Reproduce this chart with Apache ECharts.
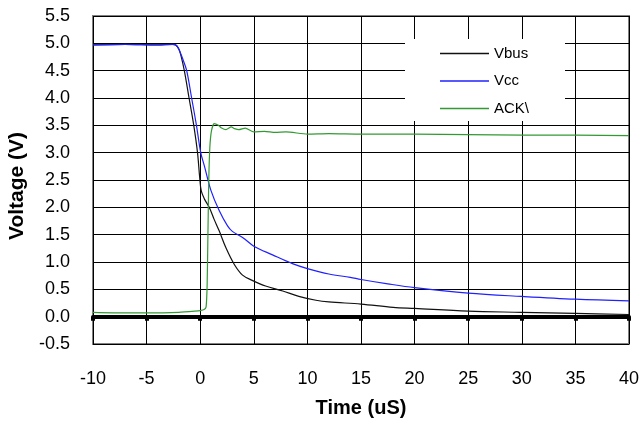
<!DOCTYPE html>
<html>
<head>
<meta charset="utf-8">
<script src="https://cdn.jsdelivr.net/npm/echarts@6/dist/echarts.min.js"></script>
<style>
html,body{margin:0;padding:0;background:#fff;}
#chart{width:641px;height:422px;}
</style>
</head>
<body>
<div id="chart"></div>
<script>
// Axis ticks
var xTicks = [-10, -5, 0, 5, 10, 15, 20, 25, 30, 35, 40];
var yTicks = [-0.5, 0, 0.5, 1, 1.5, 2, 2.5, 3, 3.5, 4, 4.5, 5, 5.5];

// Vbus
var vbusT = [-10, -7, -4, -2.6, -2.3, -2.0, -1.8, -1.48, -1.04, -0.6, -0.25, -0.05, 0.1, 0.4, 0.84, 1.3, 1.77, 2.4, 3.17, 3.95, 4.9, 6.1, 7.7, 9.2, 10.8, 12, 15, 18, 20, 25, 30, 35, 40];
var vbusV = [4.97, 4.98, 4.97, 4.98, 4.97, 4.9, 4.78, 4.5, 4.0, 3.5, 3.0, 2.55, 2.3, 2.15, 2.0, 1.78, 1.57, 1.26, 0.96, 0.76, 0.66, 0.56, 0.47, 0.37, 0.30, 0.27, 0.23, 0.17, 0.15, 0.10, 0.08, 0.06, 0.04];

// Vcc
var vccT = [-10, -7, -4, -2.5, -2.2, -1.9, -1.6, -1.26, -0.8, -0.35, 0.05, 0.4, 1.0, 1.77, 2.55, 3.0, 3.95, 5.0, 6.75, 8.6, 10, 12, 14, 15, 17.5, 20, 25, 30, 35, 40];
var vccV = [4.97, 4.98, 4.97, 4.98, 4.96, 4.85, 4.7, 4.5, 4.0, 3.5, 3.0, 2.75, 2.31, 1.94, 1.66, 1.56, 1.45, 1.29, 1.13, 0.97, 0.88, 0.78, 0.72, 0.68, 0.6, 0.53, 0.43, 0.37, 0.32, 0.29];

// ACK\
var ackT = [-10, -7, -5, -2, -0.5, 0.0, 0.37, 0.55, 0.65, 0.72, 0.8, 0.9, 1.05, 1.3, 1.7, 2.0, 2.4, 2.9, 3.2, 3.6, 4.2, 5, 6, 7, 8, 10, 12, 15, 20, 25, 30, 35, 40];
var ackV = [0.08, 0.07, 0.07, 0.08, 0.1, 0.11, 0.13, 0.18, 0.6, 1.5, 2.5, 3.1, 3.4, 3.53, 3.5, 3.45, 3.42, 3.47, 3.44, 3.42, 3.45, 3.38, 3.39, 3.37, 3.38, 3.34, 3.35, 3.34, 3.34, 3.33, 3.32, 3.32, 3.31];

function pairs(t, v) { return t.map(function (x, i) { return [x, v[i]]; }); }

var chart = echarts.init(document.getElementById('chart'), null, {renderer: 'canvas'});
var font = '"Liberation Sans", Arial, sans-serif';
var lineIcon = 'path://M0,0H49V1.4H0Z';
chart.setOption({
  animation: false,
  backgroundColor: '#fff',
  grid: {left: 93, top: 16, right: 12, bottom: 78, containLabel: false, outerBoundsMode: 'none',
    show: true, borderColor: '#808080', borderWidth: 2, backgroundColor: 'transparent'},
  legend: {
    orient: 'vertical', left: 405, top: 39,
    backgroundColor: '#fff',
    padding: [7, 36, 5, 35],
    itemWidth: 49, itemHeight: 14, itemGap: 12.5,
    textStyle: {fontFamily: font, fontSize: 15, color: '#000'},
    data: [
      {name: 'Vbus', icon: lineIcon},
      {name: 'Vcc', icon: lineIcon},
      {name: 'ACK\\', icon: lineIcon}
    ]
  },
  xAxis: {
    type: 'value', min: xTicks[0], max: xTicks[xTicks.length - 1], interval: 5,
    axisLine: {show: true, onZero: true, lineStyle: {color: '#000', width: 4}},
    axisTick: {show: true, length: 4, lineStyle: {color: '#000', width: 4}},
    axisLabel: {margin: 26, fontFamily: font, fontSize: 18, color: '#000'},
    splitLine: {show: true, lineStyle: {color: '#000', width: 1}},
    name: 'Time (uS)', nameLocation: 'middle', nameGap: 54,
    nameTextStyle: {fontFamily: font, fontSize: 20, fontWeight: 'bold', color: '#000'}
  },
  yAxis: {
    type: 'value', min: yTicks[0], max: yTicks[yTicks.length - 1], interval: 0.5,
    axisLine: {show: false}, axisTick: {show: false},
    axisLabel: {margin: 23, fontFamily: font, fontSize: 18, color: '#000', formatter: function (v) { return v.toFixed(1); }},
    splitLine: {show: true, lineStyle: {color: '#000', width: 1}},
    name: 'Voltage (V)', nameLocation: 'middle', nameGap: 64,
    nameTextStyle: {fontFamily: font, fontSize: 21, fontWeight: 'bold', color: '#000', padding: [0, 12, 0, 0]}
  },
  series: [
    {name: 'Vbus', type: 'line', symbol: 'none', smooth: 0.35, data: pairs(vbusT, vbusV), lineStyle: {color: '#111', width: 1.2}, itemStyle: {color: '#111'}},
    {name: 'Vcc', type: 'line', symbol: 'none', smooth: 0.35, data: pairs(vccT, vccV), lineStyle: {color: '#2020ff', width: 1.2}, itemStyle: {color: '#2020ff'}},
    {name: 'ACK\\', type: 'line', symbol: 'none', smooth: 0.2, data: pairs(ackT, ackV), lineStyle: {color: '#339933', width: 1.2}, itemStyle: {color: '#339933'}}
  ]
});
</script>
</body>
</html>
